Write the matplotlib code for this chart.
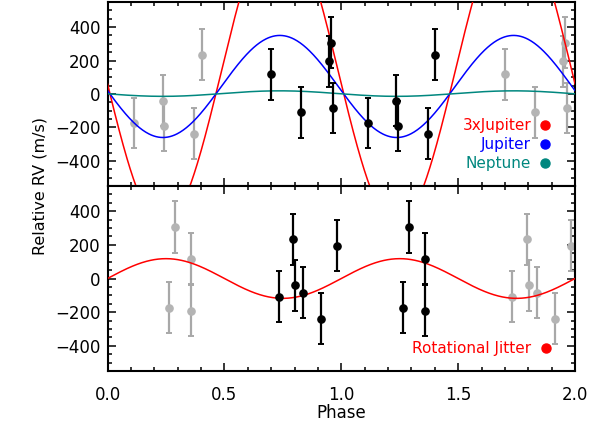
import numpy as np
import matplotlib
matplotlib.use('Agg')
import matplotlib.pyplot as plt
from matplotlib.ticker import MultipleLocator

# measured radial velocities (m/s), same points in both panels
rv = [117, -109, 306, 196, -84, -173, -41, -191, -238, 234]
rv_err = [152, 152, 152, 152, 152, 152, 152, 152, 152, 152]
# phase folded on the planet period (top) and rotation period (bottom)
phase_orb = [0.700, 0.827, 0.955, 0.948, 0.965, 1.115, 1.236, 1.243, 1.372, 1.403]
phase_rot = [1.358, 0.732, 1.289, 0.981, 0.837, 1.262, 0.804, 1.358, 0.915, 0.794]

# model curves
jup_K = 305.0        # semi-amplitude (m/s)
jup_offset = 45.0
jup_peak = 0.737     # phase of maximum
model_names = ['3xJupiter', 'Jupiter', 'Neptune']
model_scale = [3.0, 1.0, 0.054]
model_colors = ['#ff0000', '#0000ff', '#00877f']
jitter_amp = 118.0
jitter_name = 'Rotational Jitter'

plt.rcParams['font.family'] = ['DejaVu Sans']
plt.rcParams['font.size'] = 12

fig = plt.figure(figsize=(6.12, 4.29), dpi=100)
ax1 = fig.add_axes([0.1757, 0.5664, 0.7639, 0.4290])
ax2 = fig.add_axes([0.1757, 0.1352, 0.7639, 0.4312])

ph = np.linspace(0, 2, 600)


def copies(phase, vals):
    # duplicate the folded points one cycle to the left and right
    p = np.asarray(phase)
    v = np.asarray(vals)
    xs, ys = [], []
    for shift in (-1, 1):
        q = p + shift
        m = (q >= 0) & (q <= 2)
        xs.append(q[m])
        ys.append(v[m])
    return np.concatenate(xs), np.concatenate(ys)


def draw_points(ax, phase, color, z):
    ax.errorbar(phase, rv, yerr=rv_err, fmt='o', color=color, ecolor=color,
                ms=5.2, elinewidth=1.6, capsize=2.4, capthick=1.4, zorder=z)


def draw_gray(ax, phase):
    gx, gy = copies(phase, rv)
    ax.errorbar(gx, gy, yerr=rv_err[0], fmt='o', color='#b4b4b4', ecolor='#a8a8a8',
                ms=5.2, elinewidth=1.6, capsize=2.4, capthick=1.4, zorder=2)


# top panel
draw_gray(ax1, phase_orb)
base = jup_offset + jup_K * np.cos(2 * np.pi * (ph - jup_peak))
for s, c in zip(model_scale, model_colors):
    ax1.plot(ph, s * base, color=c, lw=1.1, zorder=3)
draw_points(ax1, phase_orb, 'black', 4)

for i, (name, c) in enumerate(zip(model_names, model_colors)):
    yy = 0.33 - i * 0.103
    ax1.text(0.906, yy, name, color=c, ha='right', va='center',
             transform=ax1.transAxes, fontsize=11)
    ax1.plot([0.936], [yy], 'o', color=c, ms=6.5, transform=ax1.transAxes,
             clip_on=False)

# bottom panel
draw_gray(ax2, phase_rot)
ax2.plot(ph, jitter_amp * np.sin(2 * np.pi * ph), color='#ff0000', lw=1.1, zorder=3)
draw_points(ax2, phase_rot, 'black', 4)
ax2.text(0.906, 0.124, jitter_name, color='#ff0000', ha='right', va='center',
         transform=ax2.transAxes, fontsize=11)
ax2.plot([0.937], [0.124], 'o', color='#ff0000', ms=6.5, transform=ax2.transAxes,
         clip_on=False)

for ax in (ax1, ax2):
    ax.set_xlim(0, 2)
    ax.set_ylim(-550, 550)
    ax.xaxis.set_major_locator(MultipleLocator(0.5))
    ax.xaxis.set_minor_locator(MultipleLocator(0.1))
    ax.yaxis.set_major_locator(MultipleLocator(200))
    ax.yaxis.set_minor_locator(MultipleLocator(50))
    ax.tick_params(which='both', direction='in', top=True, right=True, width=1.1)
    ax.tick_params(which='major', length=6)
    ax.tick_params(which='minor', length=3)
    ax.tick_params(axis='y', pad=5)
    for sp in ax.spines.values():
        sp.set_linewidth(1.5)

ax1.tick_params(labelbottom=False)
ax2.set_xticks([0, 0.5, 1.0, 1.5, 2.0])
ax2.set_xticklabels(['0.0', '0.5', '1.0', '1.5', '2.0'])
ax2.tick_params(axis='x', pad=11)
ax2.set_xlabel('Phase', labelpad=0)
fig.text(0.065, 0.566, 'Relative RV (m/s)', rotation=90, ha='center', va='center',
         fontsize=11.5)

fig.savefig('out.png', dpi=100)
